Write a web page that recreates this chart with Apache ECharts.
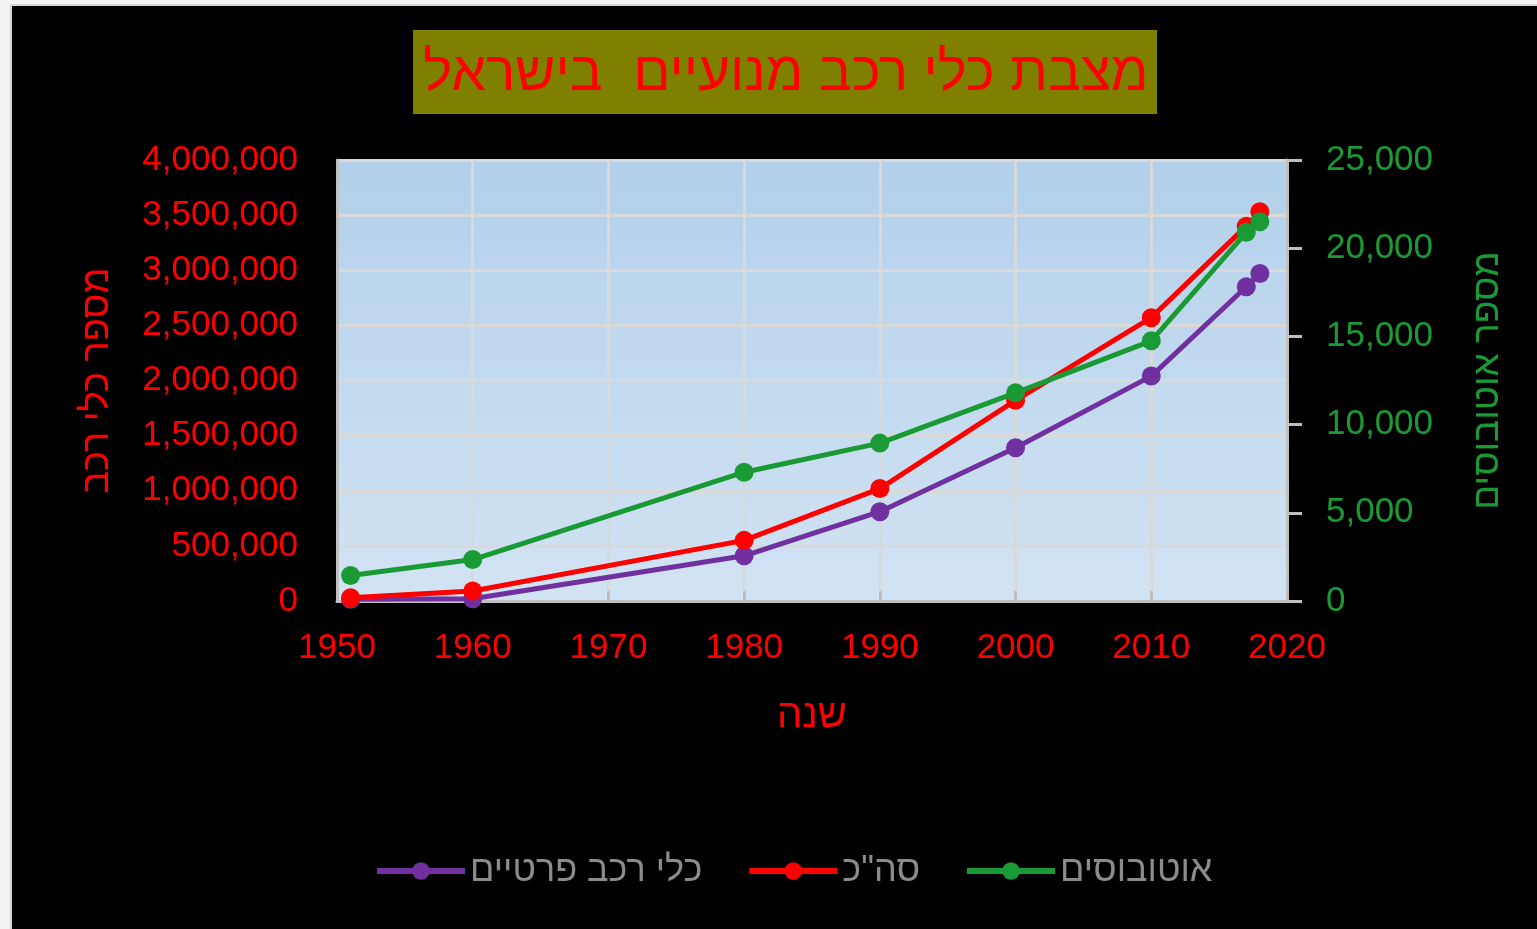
<!DOCTYPE html>
<html>
<head>
<meta charset="utf-8">
<script src="https://cdn.jsdelivr.net/npm/echarts@6/dist/echarts.min.js"></script>
<style>
  html, body { margin: 0; padding: 0; background: #000; }
  #chart { width: 1537px; height: 929px; }
</style>
</head>
<body>
<div id="chart"></div>
<script>
// Motor vehicle stock in Israel by year
const years = [1951, 1960, 1980, 1990, 2000, 2010, 2017, 2018];
const privateCars = [15000, 20000, 410000, 810000, 1390000, 2040000, 2850000, 2970000];
const totalVehicles = [30000, 90000, 550000, 1020000, 1820000, 2570000, 3400000, 3530000];
const buses = [1450, 2350, 7300, 8950, 11800, 14750, 20900, 21500];

const seriesNames = ['כלי רכב פרטיים', 'סה"כ', 'אוטובוסים'];
const seriesColors = ['#7030a0', '#ff0000', '#1a9a35'];
const titleText = 'מצבת כלי רכב מנועיים  בישראל';
const xAxisTitle = 'שנה';
const leftAxisTitle = 'מספר כלי רכב';
const rightAxisTitle = 'מספר אוטובוסים';

const FONT = '"Liberation Sans", Arial, sans-serif';
const fmt = v => Number(v).toLocaleString('en-US');
const pairs = arr => years.map((y, i) => [y, arr[i]]);

const chart = echarts.init(document.getElementById('chart'), null, { renderer: 'canvas' });

function lineSeries(idx, data, yAxisIndex) {
  return {
    name: seriesNames[idx],
    type: 'line',
    yAxisIndex: yAxisIndex,
    data: pairs(data),
    symbol: 'circle',
    symbolSize: 19,
    showSymbol: true,
    lineStyle: { width: 5, color: seriesColors[idx] },
    itemStyle: { color: seriesColors[idx] },
    emphasis: { disabled: true },
    z: 2 + idx
  };
}

chart.setOption({
  backgroundColor: '#000',
  animation: false,
  textStyle: { fontFamily: FONT },
  graphic: [
    { type: 'rect', shape: { x: 0, y: 0, width: 1537, height: 4 }, style: { fill: '#f3f3f3' }, silent: true },
    { type: 'rect', shape: { x: 0, y: 4, width: 1537, height: 2 }, style: { fill: '#d4d4d4' }, silent: true },
    { type: 'rect', shape: { x: 0, y: 0, width: 10, height: 929 }, style: { fill: '#f3f3f3' }, silent: true },
    { type: 'rect', shape: { x: 10, y: 4, width: 2, height: 925 }, style: { fill: '#d4d4d4' }, silent: true },
    { type: 'rect', shape: { x: 413, y: 30, width: 744, height: 84 }, style: { fill: '#808000' }, silent: true },
    {
      type: 'text', x: 786, y: 75, silent: true,
      style: {
        text: titleText, fill: '#ff0000', font: '55px ' + FONT,
        textAlign: 'center', textVerticalAlign: 'middle'
      }
    }
  ],
  legend: {
    data: seriesNames,
    left: 374,
    top: 853,
    padding: 0,
    itemWidth: 88,
    itemHeight: 22,
    itemGap: 44,
    lineStyle: { width: 6 },
    textStyle: { color: '#8c8c8c', fontSize: 36, fontFamily: FONT },
    selectedMode: false
  },
  grid: {
    left: 337, right: 250, top: 160, bottom: 328,
    show: true,
    borderWidth: 0,
    backgroundColor: new echarts.graphic.LinearGradient(0, 0, 0, 1, [
      { offset: 0, color: '#b2d0ea' },
      { offset: 1, color: '#d2e3f3' }
    ])
  },
  xAxis: {
    type: 'value',
    min: 1950, max: 2020, interval: 10,
    name: xAxisTitle,
    nameLocation: 'middle',
    nameGap: 95,
    nameTextStyle: { color: '#ff0000', fontSize: 40, fontFamily: FONT },
    axisLine: { show: true, onZero: false, lineStyle: { color: '#c0c0c0', width: 3 } },
    axisTick: { show: true, inside: true, length: 10, lineStyle: { color: '#bdbdbd', width: 3 } },
    axisLabel: { color: '#ff0000', fontSize: 35, margin: 30, fontFamily: FONT, formatter: v => String(v) },
    splitLine: { show: true, lineStyle: { color: '#d9d9d9', width: 3 } }
  },
  yAxis: [
    {
      type: 'value',
      position: 'left',
      min: 0, max: 4000000, interval: 500000,
      name: leftAxisTitle,
      nameLocation: 'middle',
      nameRotate: 90,
      nameGap: 220,
      nameTextStyle: { color: '#ff0000', fontSize: 38, fontFamily: FONT },
      axisLine: { show: true, lineStyle: { color: '#c0c0c0', width: 3 } },
      axisTick: { show: false },
      axisLabel: { color: '#ff0000', fontSize: 35, margin: 39, fontFamily: FONT, formatter: fmt },
      splitLine: { show: true, lineStyle: { color: '#d9d9d9', width: 3 } }
    },
    {
      type: 'value',
      position: 'right',
      min: 0, max: 25000, interval: 5000,
      name: rightAxisTitle,
      nameLocation: 'middle',
      nameRotate: 90,
      nameGap: 182,
      nameTextStyle: { color: '#1a9a35', fontSize: 37, fontFamily: FONT },
      axisLine: { show: true, lineStyle: { color: '#c0c0c0', width: 3 } },
      axisTick: { show: true, length: 15, lineStyle: { color: '#c0c0c0', width: 3 } },
      axisLabel: { color: '#1a9a35', fontSize: 35, margin: 39, fontFamily: FONT, formatter: fmt },
      splitLine: { show: false }
    }
  ],
  series: [
    lineSeries(0, privateCars, 0),
    lineSeries(1, totalVehicles, 0),
    lineSeries(2, buses, 1)
  ]
});
</script>
</body>
</html>
